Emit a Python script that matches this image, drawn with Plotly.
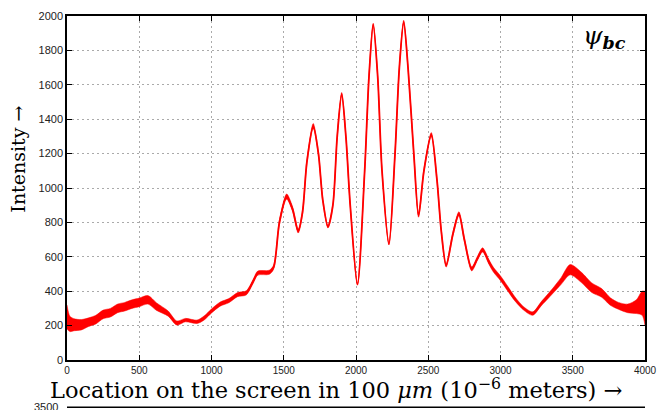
import plotly.graph_objects as go

loc = [0, 20, 50, 100, 150, 200, 250, 300, 350, 400, 450, 500, 560, 620, 700, 760, 820, 900, 950,
       1000, 1060, 1120, 1180, 1240, 1290, 1320, 1400, 1430, 1470, 1520, 1560, 1600, 1630, 1660,
       1704, 1740, 1770, 1806, 1840, 1870, 1901, 1930, 1960, 2010, 2060, 2090, 2119, 2150, 2180,
       2228, 2270, 2300, 2330, 2360, 2400, 2433, 2470, 2521, 2560, 2590, 2624, 2670, 2712, 2750,
       2801, 2840, 2876, 2920, 2951, 3000, 3050, 3100, 3160, 3223, 3280, 3360, 3420, 3482, 3560,
       3632, 3700, 3760, 3816, 3880, 3940, 3980, 4000]
intensity = [250, 210, 205, 205, 220, 235, 265, 275, 300, 310, 325, 335, 350, 310, 270, 215, 232, 222, 245,
             285, 325, 345, 380, 390, 460, 505, 510, 540, 800, 950, 880, 750, 860, 1150,
             1360, 1200, 930, 775, 900, 1300, 1545, 1300, 900, 440, 1100, 1650, 1950, 1650, 1100,
             675, 1200, 1700, 1965, 1700, 1200, 840, 1100, 1310, 1050, 750, 550, 730, 850, 700,
             530, 590, 640, 570, 525, 475, 415, 355, 300, 270, 325, 400, 460, 525, 480,
             420, 390, 340, 315, 300, 310, 330, 300]
spread = [70, 45, 35, 30, 25, 25, 25, 25, 25, 25, 25, 25, 25, 22, 15, 12, 10, 10, 12,
          12, 12, 12, 12, 12, 12, 12, 12, 12, 14, 15, 14, 12, 12, 12,
          15, 10, 10, 8, 8, 8, 10, 6, 5, 5, 5, 5, 8, 5, 5,
          6, 6, 7, 10, 8, 8, 10, 10, 12, 10, 10, 10, 12, 12, 12,
          12, 12, 12, 14, 14, 14, 14, 12, 10, 10, 12, 15, 20, 30, 30,
          28, 25, 22, 20, 25, 40, 70, 100]

x_ticks = [0, 500, 1000, 1500, 2000, 2500, 3000, 3500, 4000]
y_ticks = [0, 200, 400, 600, 800, 1000, 1200, 1400, 1600, 1800, 2000]

upper = [c + s for c, s in zip(intensity, spread)]
lower = [c - s for c, s in zip(intensity, spread)]

RED = "#ff0000"
fig = go.Figure()
fig.add_trace(go.Scatter(x=loc, y=lower, mode="lines", line=dict(color=RED, width=0.5, shape="spline", smoothing=0.8),
                         showlegend=False, hoverinfo="skip"))
fig.add_trace(go.Scatter(x=loc, y=upper, mode="lines", fill="tonexty", fillcolor=RED,
                         line=dict(color=RED, width=0.5, shape="spline", smoothing=0.8),
                         showlegend=False, hoverinfo="skip"))
fig.add_trace(go.Scatter(x=loc, y=intensity, mode="lines", line=dict(color=RED, width=1.8, shape="spline", smoothing=0.8),
                         showlegend=False))

axis_common = dict(showline=True, linecolor="black", linewidth=1.5, mirror="ticks", ticks="inside",
                   ticklen=5, tickcolor="black", showgrid=True, gridcolor="#aaaaaa", griddash="2px,3px",
                   gridwidth=1, zeroline=False)
fig.update_xaxes(range=[0, 4000], tickvals=x_ticks, ticktext=[str(v) for v in x_ticks],
                 tickfont=dict(family="Liberation Sans", size=10, color="#222"), **axis_common)
fig.update_yaxes(range=[0, 2000], tickvals=y_ticks, ticktext=[str(v) for v in y_ticks],
                 tickfont=dict(family="Liberation Sans", size=11, color="#222"), **axis_common)

serif = "DejaVu Serif"
fig.update_layout(
    width=667, height=410, margin=dict(l=67, r=13, t=10, b=50),
    paper_bgcolor="white", plot_bgcolor="white",
    annotations=[
        dict(text="<i>ψ</i><b><i><sub>bc</sub></i></b>", x=0.97, y=0.99, xref="paper", yref="paper",
             xanchor="right", yanchor="top", showarrow=False, font=dict(family=serif, size=25, color="black")),
        dict(text="Intensity →", x=-0.085, y=0.585, xref="paper", yref="paper", textangle=-90,
             xanchor="center", yanchor="middle", showarrow=False, font=dict(family=serif, size=19, color="black")),
        dict(text="Location on the screen in 100 <i>μm</i> (10<sup>−6</sup> meters) →", x=0.466, y=-0.083,
             xref="paper", yref="paper", xanchor="center", yanchor="middle", showarrow=False,
             font=dict(family=serif, size=22.5, color="black")),
        dict(text="3500", x=-0.012, y=-0.137, xref="paper", yref="paper", xanchor="right", yanchor="middle",
             showarrow=False, font=dict(family="Liberation Sans", size=11, color="#222")),
    ],
    shapes=[dict(type="line", xref="paper", yref="paper", x0=0, x1=1, y0=-0.137, y1=-0.137,
                 line=dict(color="black", width=1.5))],
)

fig.write_html("out.html")
